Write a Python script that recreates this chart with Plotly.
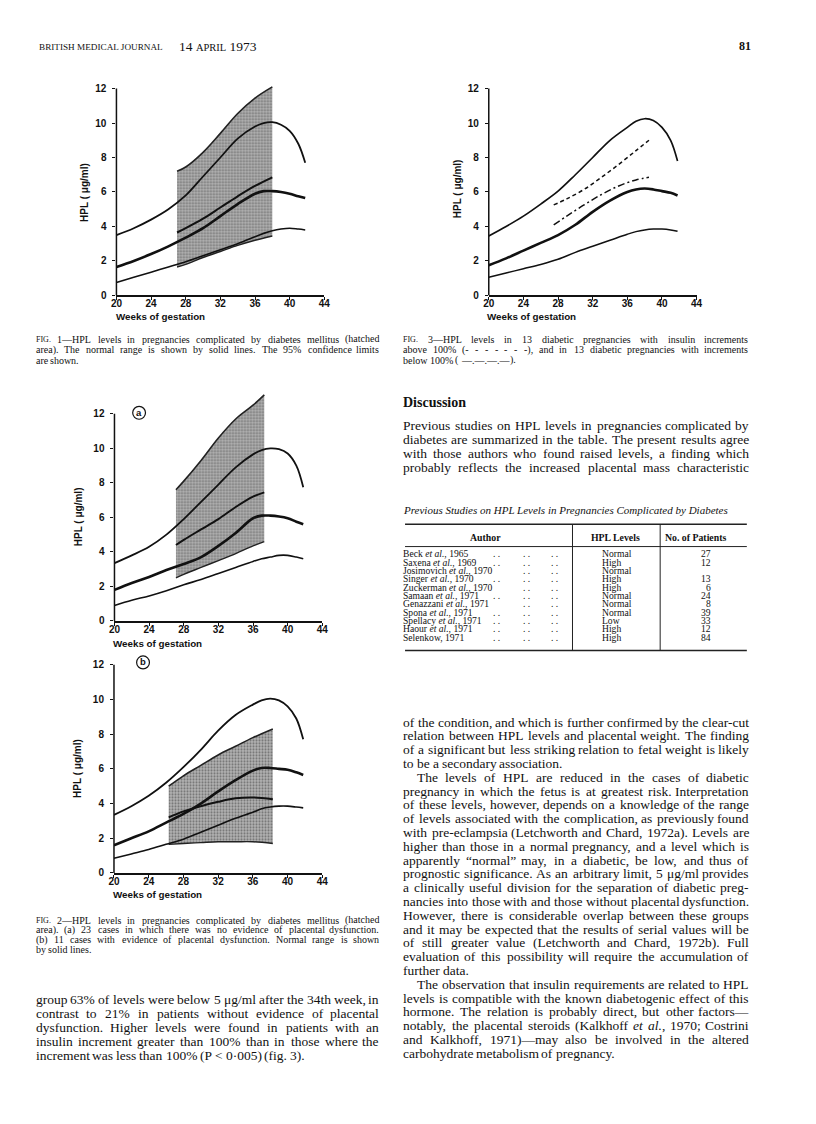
import plotly.graph_objects as go

# The page body has an 8px default margin, so the figure is 8px smaller on each side
OFF = 8
W, H = 816 - 2 * OFF, 1124 - 2 * OFF


def fx(x):
    return (x - OFF) / W


def fy(y):
    return 1 - (y - OFF) / H


# ---------------------------------------------------------------- data
weeks_normal = [20, 22, 24, 26, 28, 30, 32, 34, 36, 37, 38, 39, 40, 41, 41.8]
tick_weeks = [20, 24, 28, 32, 36, 40, 44]
tick_hpl = [0, 2, 4, 6, 8, 10, 12]

# Fig 1
f1_upper = [3.5, 3.9, 4.4, 5.0, 5.8, 6.9, 8.0, 9.1, 9.8, 10.0, 10.05, 9.9, 9.55, 8.8, 7.7]
f1_mean = [1.65, 2.0, 2.4, 2.85, 3.35, 3.9, 4.6, 5.3, 5.9, 6.05, 6.05, 6.0, 5.9, 5.75, 5.65]
f1_lower = [0.75, 1.05, 1.35, 1.65, 1.95, 2.3, 2.65, 3.0, 3.4, 3.6, 3.75, 3.85, 3.9, 3.85, 3.8]
f1_dm_weeks = [27, 28, 30, 32, 34, 36, 38]
f1_dm_top = [7.2, 7.45, 8.3, 9.4, 10.55, 11.45, 12.1]
f1_dm_bottom = [1.65, 1.8, 2.2, 2.55, 2.9, 3.2, 3.45]
f1_dm_mean = [3.65, 3.9, 4.45, 5.1, 5.75, 6.35, 6.85]

# Fig 3
f3_upper = [3.45, 4.0, 4.6, 5.3, 6.05, 7.0, 8.0, 9.0, 9.75, 10.1, 10.25, 10.15, 9.75, 9.0, 7.8]
f3_mean = [1.75, 2.15, 2.6, 3.05, 3.5, 4.1, 4.85, 5.5, 6.0, 6.15, 6.2, 6.15, 6.05, 5.95, 5.8]
f3_lower = [1.05, 1.3, 1.55, 1.8, 2.1, 2.5, 2.85, 3.2, 3.55, 3.7, 3.8, 3.85, 3.85, 3.8, 3.72]
f3_ins_weeks = [27.5, 29, 31, 33, 35, 37, 38.5]
f3_above100 = [5.25, 5.6, 6.15, 6.85, 7.6, 8.4, 9.0]
f3_below100 = [4.1, 4.6, 5.25, 5.85, 6.35, 6.7, 6.85]

# Fig 2a
f2a_upper = [3.35, 3.8, 4.3, 5.0, 5.9, 6.9, 7.9, 8.9, 9.65, 9.9, 10.0, 9.95, 9.7, 9.0, 7.75]
f2a_mean = [1.8, 2.2, 2.55, 2.95, 3.3, 3.7, 4.35, 5.1, 5.95, 6.1, 6.1, 6.05, 5.95, 5.75, 5.6]
f2a_lower = [0.9, 1.2, 1.45, 1.75, 2.1, 2.4, 2.75, 3.1, 3.45, 3.6, 3.7, 3.8, 3.8, 3.7, 3.6]
f2a_dm_weeks = [27.1, 28, 30, 32, 34, 36, 37.3]
f2a_dm_top = [7.6, 8.1, 9.3, 10.6, 11.7, 12.5, 13.1]
f2a_dm_bottom = [2.5, 2.7, 3.1, 3.5, 3.9, 4.35, 4.6]
f2a_dm_mean = [4.4, 4.7, 5.3, 5.9, 6.6, 7.2, 7.45]

# Fig 2b
f2b_upper = [3.35, 3.85, 4.45, 5.2, 6.1, 7.1, 8.2, 9.1, 9.7, 9.95, 10.05, 9.95, 9.6, 8.9, 7.7]
f2b_mean = [1.6, 2.0, 2.4, 2.9, 3.4, 4.0, 4.7, 5.35, 5.9, 6.05, 6.05, 6.0, 5.95, 5.8, 5.65]
f2b_lower = [0.85, 1.1, 1.35, 1.65, 1.95, 2.35, 2.75, 3.15, 3.5, 3.7, 3.8, 3.85, 3.85, 3.8, 3.75]
f2b_dm_weeks = [26.3, 28, 30, 32, 34, 36, 38.3]
f2b_dm_top = [5.0, 5.6, 6.2, 6.8, 7.3, 7.8, 8.3]
f2b_dm_bottom = [1.65, 1.7, 1.75, 1.8, 1.8, 1.8, 1.7]
f2b_dm_mean = [3.2, 3.55, 3.85, 4.1, 4.3, 4.35, 4.25]

# Table
table_authors = ["Beck et al., 1965", "Saxena et al., 1969", "Josimovich et al., 1970",
                 "Singer et al., 1970", "Zuckerman et al., 1970", "Samaan et al., 1971",
                 "Genazzani et al., 1971", "Spona et al., 1971", "Spellacy et al., 1971",
                 "Haour et al., 1971", "Selenkow, 1971"]
table_levels = ["Normal", "High", "Normal", "High", "High", "Normal", "Normal",
                "Normal", "Low", "High", "High"]
table_patients = ["27", "12", "", "13", "6", "24", "8", "39", "33", "12", "84"]

# Text
fig1_caption = [
    "FIG. 1—HPL levels in pregnancies complicated by diabetes mellitus (hatched",
    "area). The normal range is shown by solid lines. The 95% confidence limits",
    "are shown.",
]
fig3_caption = [
    "FIG. 3—HPL levels in 13 diabetic pregnancies with insulin increments",
    "above 100% (- - - - - - -), and in 13 diabetic pregnancies with increments",
    "below 100% ( —.—.—.— ).",
]
fig2_caption = [
    "FIG. 2—HPL levels in pregnancies complicated by diabetes mellitus (hatched",
    "area). (a) 23 cases in which there was no evidence of placental dysfunction.",
    "(b) 11 cases with evidence of placental dysfunction. Normal range is shown",
    "by solid lines.",
]
left_paragraph = [
    "group 63% of levels were below 5 μg/ml after the 34th week, in",
    "contrast to 21% in patients without evidence of placental",
    "dysfunction. Higher levels were found in patients with an",
    "insulin increment greater than 100% than in those where the",
    "increment was less than 100% (P < 0·005) (fig. 3).",
]
discussion_lines = [
    "Previous studies on HPL levels in pregnancies complicated by",
    "diabetes are summarized in the table. The present results agree",
    "with those authors who found raised levels, a finding which",
    "probably reflects the increased placental mass characteristic",
]
right_paragraphs = [
    [
        "of the condition, and which is further confirmed by the clear-cut",
        "relation between HPL levels and placental weight. The finding",
        "of a significant but less striking relation to fetal weight is likely",
        "to be a secondary association.",
    ],
    [
        "The levels of HPL are reduced in the cases of diabetic",
        "pregnancy in which the fetus is at greatest risk. Interpretation",
        "of these levels, however, depends on a knowledge of the range",
        "of levels associated with the complication, as previously found",
        "with pre-eclampsia (Letchworth and Chard, 1972a). Levels are",
        "higher than those in a normal pregnancy, and a level which is",
        "apparently “normal” may, in a diabetic, be low, and thus of",
        "prognostic significance. As an arbitrary limit, 5 μg/ml provides",
        "a clinically useful division for the separation of diabetic preg-",
        "nancies into those with and those without placental dysfunction.",
        "However, there is considerable overlap between these groups",
        "and it may be expected that the results of serial values will be",
        "of still greater value (Letchworth and Chard, 1972b). Full",
        "evaluation of this possibility will require the accumulation of",
        "further data.",
    ],
    [
        "The observation that insulin requirements are related to HPL",
        "levels is compatible with the known diabetogenic effect of this",
        "hormone. The relation is probably direct, but other factors—",
        "notably, the placental steroids (Kalkhoff et al., 1970; Costrini",
        "and Kalkhoff, 1971)—may also be involved in the altered",
        "carbohydrate metabolism of pregnancy.",
    ],
]

# ---------------------------------------------------------------- helpers
SERIF = "Liberation Serif"
SANS = "Liberation Sans"

TW = {' ': 250, 'a': 444, 'b': 500, 'c': 444, 'd': 500, 'e': 444, 'f': 333, 'g': 500,
      'h': 500, 'i': 278, 'j': 278, 'k': 500, 'l': 278, 'm': 778, 'n': 500, 'o': 500,
      'p': 500, 'q': 500, 'r': 333, 's': 389, 't': 278, 'u': 500, 'v': 500, 'w': 722,
      'x': 500, 'y': 500, 'z': 444,
      'A': 722, 'B': 667, 'C': 667, 'D': 722, 'E': 611, 'F': 556, 'G': 722, 'H': 722,
      'I': 333, 'J': 389, 'K': 722, 'L': 611, 'M': 889, 'N': 722, 'O': 722, 'P': 556,
      'Q': 722, 'R': 667, 'S': 556, 'T': 611, 'U': 722, 'V': 722, 'W': 944, 'X': 722,
      'Y': 722, 'Z': 611, '.': 250, ',': 250, ';': 278, ':': 278, '-': 333, '(': 333,
      ')': 333, '%': 833, '—': 1000, '“': 444, '”': 444, 'μ': 500, '<': 564, '·': 250,
      '/': 278, "'": 333, '"': 408}
for d in "0123456789":
    TW[d] = 500

annotations = []
shapes = []


def word_width(w, size):
    return sum(TW.get(c, 500) for c in w) * size / 1000


def render_word(w):
    w = w.replace('<', '&lt;')
    if w == 'et':
        return '<i>et</i>'
    if w.startswith('al.'):
        return '<i>al.</i>' + w[3:]
    return w


def add_text(x, y, text, size, family=SERIF, anchor='left', color='#111', angle=0,
             weight='normal'):
    annotations.append(dict(x=fx(x), y=fy(y), xref='paper', yref='paper', text=text,
                            showarrow=False, xanchor=anchor, yanchor='middle',
                            textangle=angle, borderpad=0, borderwidth=0,
                            font=dict(family=family, size=size, color=color, weight=weight)))


def place_line(text, x0, x1, y, size, justify=True, indent=0):
    words = text.split()
    pieces = []
    for w in words:
        if w == 'FIG.':
            pieces.append((w, size * 0.8, word_width(w, size * 0.8)))
        else:
            pieces.append((render_word(w), size, word_width(w, size)))
    start = x0 + indent
    total = sum(p[2] for p in pieces)
    if justify and len(pieces) > 1:
        gap = (x1 - start - total) / (len(pieces) - 1)
    else:
        gap = TW[' '] * size / 1000
    x = start
    for i, (t, s, wd) in enumerate(pieces):
        if justify and len(pieces) > 1 and i == len(pieces) - 1:
            add_text(x1, y, t, s, anchor='right')
        else:
            add_text(x, y, t, s, anchor='left')
        x += wd + gap


def place_block(lines, x0, x1, y0, dy, size, last_justified=False, indent=0):
    for i, line in enumerate(lines):
        last = i == len(lines) - 1
        place_line(line, x0, x1, y0 + i * dy, size,
                   justify=(not last) or last_justified,
                   indent=indent if i == 0 else 0)


# ---------------------------------------------------------------- figure
fig = go.Figure()

# axis id: (x px at 20, x px at 44, y px at 0, y px at 12, range top)
charts = {
    1: (112, 323, 297, 89, 12.4),
    2: (490, 701, 297, 89, 12.4),
    3: (110, 321, 624.3, 416, 13.4),
    4: (109.5, 321, 877.7, 668.3, 12.4),
}
TICKFONT = dict(family=SANS, size=10, color='#111', weight='bold')

layout_axes = {}
for n, (xa, xb, y0, y12, ytop) in charts.items():
    unit = (y0 - y12) / 12
    sfx = '' if n == 1 else str(n)
    layout_axes['xaxis' + sfx] = dict(
        domain=[fx(xa), fx(xb)], range=[20, 44], tickvals=tick_weeks,
        showline=True, linecolor='#111', linewidth=1.5, ticks='outside', ticklen=3,
        tickcolor='#111', tickwidth=1.2, showgrid=False, zeroline=False,
        ticklabelstandoff=-5, tickfont=TICKFONT,
        anchor='y' + sfx, fixedrange=True)
    layout_axes['yaxis' + sfx] = dict(
        domain=[fy(y0), fy(y0 - unit * ytop)], range=[0, ytop], tickvals=tick_hpl,
        showline=False, ticks='outside', ticklen=3, tickcolor='#111', tickwidth=1.2,
        showgrid=False, zeroline=False, ticklabelstandoff=4, tickfont=TICKFONT,
        anchor='x' + sfx, fixedrange=True)
    shapes.append(dict(type='line', xref='x' + sfx + ' domain', yref='y' + sfx,
                       x0=0, x1=0, y0=0, y1=12, line=dict(color='#111', width=1.5)))


def line(xs, ys, n, width=1.6, dash='solid'):
    sfx = '' if n == 1 else str(n)
    fig.add_trace(go.Scatter(x=xs, y=ys, mode='lines', xaxis='x' + sfx, yaxis='y' + sfx,
                             line=dict(color='#111', width=width, dash=dash,
                                       shape='spline', smoothing=1.0),
                             hoverinfo='skip', showlegend=False))


def hatched(xs, bottom, top, n):
    sfx = '' if n == 1 else str(n)
    fig.add_trace(go.Scatter(x=xs, y=bottom, mode='lines', xaxis='x' + sfx, yaxis='y' + sfx,
                             line=dict(color='#222', width=1.4, shape='spline'),
                             hoverinfo='skip', showlegend=False))
    fig.add_trace(go.Scatter(x=xs, y=top, mode='lines', xaxis='x' + sfx, yaxis='y' + sfx,
                             fill='tonexty', fillcolor='#a6a6a6',
                             fillpattern=dict(shape='.', fgcolor='#2e2e2e', bgcolor='#b3b3b3',
                                              size=3, solidity=0.4),
                             line=dict(color='#222', width=1.6, shape='spline'),
                             hoverinfo='skip', showlegend=False))


# Fig 1
hatched(f1_dm_weeks, f1_dm_bottom, f1_dm_top, 1)
line(weeks_normal, f1_upper, 1, 1.8)
line(weeks_normal, f1_mean, 1, 2.6)
line(weeks_normal, f1_lower, 1, 1.6)
line(f1_dm_weeks, f1_dm_mean, 1, 2.0)

# Fig 3
line(weeks_normal, f3_upper, 2, 1.7)
line(weeks_normal, f3_mean, 2, 2.6)
line(weeks_normal, f3_lower, 2, 1.5)
line(f3_ins_weeks, f3_above100, 2, 1.5, dash='4px,3px')
line(f3_ins_weeks, f3_below100, 2, 1.5, dash='7px,3px,2px,3px')

# Fig 2a
hatched(f2a_dm_weeks, f2a_dm_bottom, f2a_dm_top, 3)
line(weeks_normal, f2a_upper, 3, 1.8)
line(weeks_normal, f2a_mean, 3, 2.6)
line(weeks_normal, f2a_lower, 3, 1.6)
line(f2a_dm_weeks, f2a_dm_mean, 3, 2.0)

# Fig 2b
hatched(f2b_dm_weeks, f2b_dm_bottom, f2b_dm_top, 4)
line(weeks_normal, f2b_upper, 4, 1.8)
line(weeks_normal, f2b_mean, 4, 2.6)
line(weeks_normal, f2b_lower, 4, 1.6)
line(f2b_dm_weeks, f2b_dm_mean, 4, 2.0)

# axis titles
for (tx, ty) in [(80, 193), (458, 190), (73, 520), (73, 773)]:
    add_text(tx, ty, "HPL ( μg/ml)", 10, family=SANS, anchor='center', angle=-90,
             weight='bold')
for (tx, ty) in [(112, 318.5), (488, 318.5), (109, 647), (108, 899)]:
    add_text(tx, ty, "Weeks of gestation", 9.8, family=SANS, weight='bold')

# circled panel letters
for (cx, cy, letter) in [(135, 415, 'a'), (139, 666, 'b')]:
    shapes.append(dict(type='circle', xref='paper', yref='paper',
                       x0=fx(cx - 6.5), x1=fx(cx + 6.5), y0=fy(cy + 6.5), y1=fy(cy - 6.5),
                       line=dict(color='#111', width=1.2)))
    add_text(cx, cy - 0.5, letter, 9.5, family=SANS, anchor='center', weight='bold')

# header
add_text(33, 47, "BRITISH MEDICAL JOURNAL", 9.2, family=SERIF)
add_text(176, 46.5, "14 <span style='font-size:10.5px'>APRIL</span> 1973", 13.5, family=SERIF)
add_text(756, 46.5, "<b>81</b>", 12, family=SERIF, anchor='right')

# captions
place_block(fig1_caption, 30, 379, 341, 10.5, 10)
place_block(fig3_caption, 403, 753, 341, 10.5, 10)
place_block(fig2_caption, 30, 379, 925, 10, 10)

# body text
BODY = 13.5
place_block(left_paragraph, 30, 379, 1005, 14, BODY)
add_text(403, 405, "<b>Discussion</b>", 14)
place_block(discussion_lines, 403, 754, 428, 14, BODY, last_justified=True)
y = 726
for k, para in enumerate(right_paragraphs):
    place_block(para, 403, 754, y, 13.875, BODY, indent=0 if k == 0 else 14)
    y += 13.875 * len(para)

# table
add_text(403, 513, "<i>Previous Studies on HPL Levels in Pregnancies Complicated by Diabetes</i>", 11)
for (yy, wdt) in [(527, 1.6), (549.5, 1.0), (654, 1.6)]:
    shapes.append(dict(type='line', xref='paper', yref='paper', x0=fx(405), x1=fx(752),
                       y0=fy(yy), y1=fy(yy), line=dict(color='#222', width=wdt)))
for xx in [575, 664]:
    shapes.append(dict(type='line', xref='paper', yref='paper', x0=fx(xx), x1=fx(xx),
                       y0=fy(527), y1=fy(654), line=dict(color='#222', width=1.0)))
add_text(487, 540.5, "<b>Author</b>", 9.8, anchor='center')
add_text(619, 540.5, "<b>HPL Levels</b>", 9.8, anchor='center')
add_text(700, 540.5, "<b>No. of Patients</b>", 9.8, anchor='center')
TS = 9.6
for i, (a, lv, n) in enumerate(zip(table_authors, table_levels, table_patients)):
    ry = 556.7 + i * 8.4
    add_text(403, ry, ' '.join(render_word(w) for w in a.split()), TS)
    end = 403 + word_width(a, TS)
    for dx in [498, 528, 557]:
        if end + 10 < dx:
            add_text(dx, ry, ". .", TS, anchor='center')
    add_text(605, ry, lv, TS)
    if n:
        add_text(716, ry, n, TS, anchor='right')

fig.update_layout(
    width=W, height=H, margin=dict(l=0, r=0, t=0, b=0),
    paper_bgcolor='white', plot_bgcolor='white', showlegend=False,
    annotations=annotations, shapes=shapes, **layout_axes)

fig.write_html("out.html")
